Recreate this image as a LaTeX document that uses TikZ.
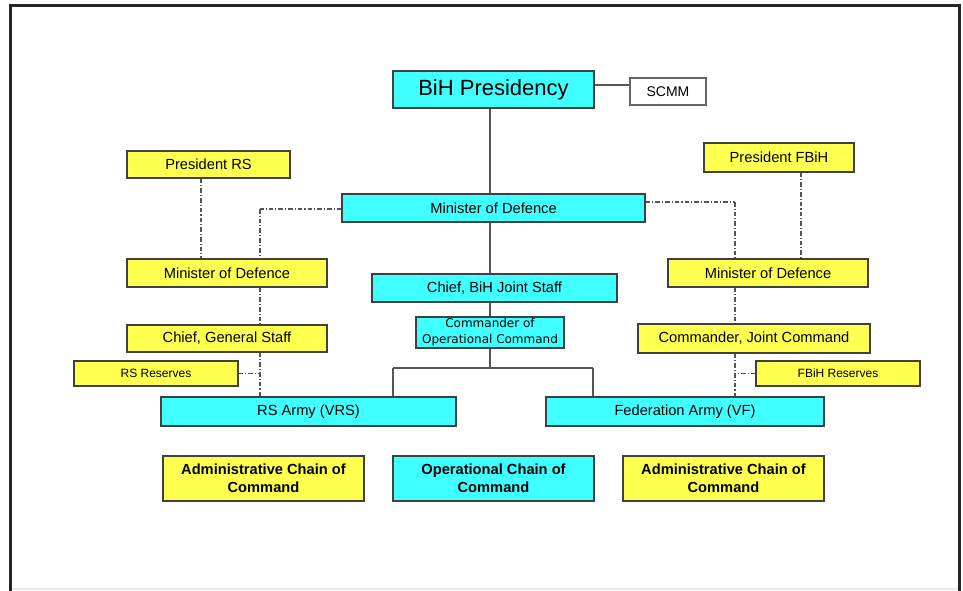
\documentclass[tikz,border=0pt]{standalone}
\usepackage{fontspec}
\setmainfont{Liberation Sans}
\newfontfamily\dejavu{DejaVu Sans}

\definecolor{boxcyan}{RGB}{64,255,255}
\definecolor{boxyellow}{RGB}{255,255,80}
\definecolor{linegray}{RGB}{85,85,85}

\begin{document}
\begin{tikzpicture}[x=0.75pt,y=-0.75pt,
    wh/.style 2 args={minimum width=#1*0.75pt,minimum height=#2*0.75pt},
    box/.style={rectangle,draw=black!75,line width=0.9pt,inner sep=0pt,align=center,
        font=\fontsize{11}{13.3}\selectfont},
    opsbox/.style={box,fill=boxcyan},
    admbox/.style={box,fill=boxyellow},
    smalltext/.style={font=\fontsize{9}{11}\selectfont}]

    \useasboundingbox (0,0) rectangle (963,590);

    % Frame %
    \draw[line width=2.1pt,black!85] (10.5,592) -- (10.5,5.5) -- (959.5,5.5) -- (959.5,592);
    \draw[line width=1pt,black!8] (12,589) -- (958,589);

    % State level %
    \node[opsbox,wh={201}{37},line width=1.6pt,font=\fontsize{16.5}{19}\selectfont] (pres) at (493.5,89.5) {BiH Presidency};
    \node[box,fill=white,draw=black!60,wh={76}{27},font=\fontsize{10.5}{12}\selectfont] (scmm) at (668,91.5) {SCMM};
    \node[opsbox,wh={303}{28}] (mod) at (493.5,208) {Minister of Defence};
    \node[opsbox,wh={245}{28}] (cbjs) at (494.5,288) {Chief, BiH Joint Staff};
    \node[opsbox,wh={148}{31},font=\dejavu\fontsize{9}{11.8}\selectfont] (coc) at (490,332.5) {Commander of\\Operational Command};

    % RS side %
    \node[admbox,wh={163}{27}] (prs) at (208.5,164.5) {President RS};
    \node[admbox,wh={200}{28}] (rsmod) at (227,273) {Minister of Defence};
    \node[admbox,wh={200}{27}] (rscgs) at (227,338.5) {Chief, General Staff};
    \node[admbox,wh={164}{25},smalltext] (rsres) at (156,373.5) {RS Reserves};
    \node[opsbox,wh={295}{29}] (vrs) at (308.5,411.5) {RS Army (VRS)};

    % Federation side %
    \node[admbox,wh={150}{29}] (pfb) at (779,157.5) {President FBiH};
    \node[admbox,wh={200}{28}] (fbmod) at (768,273) {Minister of Defence};
    \node[admbox,wh={232}{29}] (fbcjc) at (754,338.5) {Commander, Joint Command};
    \node[admbox,wh={164}{25},smalltext] (fbres) at (838,373.5) {FBiH Reserves};
    \node[opsbox,wh={278}{29}] (vf) at (685,411.5) {Federation Army (VF)};

    % Legend %
    \node[admbox,wh={201}{45},font=\fontsize{11}{13.3}\selectfont\bfseries] (admleft) at (263.5,478.5) {Administrative Chain of\\Command};
    \node[opsbox,wh={201}{45},font=\fontsize{11}{13.3}\selectfont\bfseries] (opschain) at (493.5,478.5) {Operational Chain of\\Command};
    \node[admbox,wh={201}{45},font=\fontsize{11}{13.3}\selectfont\bfseries] (admright) at (723.5,478.5) {Administrative Chain of\\Command};

    % Helper points %
    \coordinate (scmmlink) at (0,85);
    \coordinate (spine) at (490,0);
    \coordinate (fork) at (490,368);
    \coordinate (lefttap) at (393,368);
    \coordinate (righttap) at (593,368);
    \coordinate (rsbus) at (260,209);
    \coordinate (prsline) at (201,0);
    \coordinate (fbbus) at (735,202);
    \coordinate (pfbline) at (801,0);

    \begin{scope}[every edge/.style={draw=linegray,line width=0.9pt}]
        % Operational chain %
        \path (pres.east |- scmmlink) edge (scmm.west |- scmmlink);
        \path (pres.south -| spine) edge (mod.north -| spine);
        \path (mod.south -| spine) edge (cbjs.north -| spine);
        \path (cbjs.south -| spine) edge (coc.north -| spine);
        \path (coc.south -| spine) edge (fork);
        \path (lefttap) edge (righttap);
        \path (lefttap) edge (vrs.north -| lefttap);
        \path (righttap) edge (vf.north -| righttap);
    \end{scope}

    \begin{scope}[every edge/.style={draw=linegray,line width=0.9pt,
            dash pattern=on 3.5pt off 1.5pt on 0.8pt off 1.5pt}]
        % Administrative chain RS %
        \path (mod.west |- rsbus) edge (rsbus);
        \path (rsbus) edge (rsmod.north -| rsbus);
        \path (prs.south -| prsline) edge (rsmod.north -| prsline);
        \path (rsmod.south -| rsbus) edge (rscgs.north -| rsbus);
        \path (rscgs.south -| rsbus) edge (vrs.north -| rsbus);
        \path (rsres.east) edge (rsres.east -| rsbus);

        % Administrative chain Federation %
        \path (mod.east |- fbbus) edge (fbbus);
        \path (fbbus) edge (fbmod.north -| fbbus);
        \path (pfb.south -| pfbline) edge (fbmod.north -| pfbline);
        \path (fbmod.south -| fbbus) edge (fbcjc.north -| fbbus);
        \path (fbcjc.south -| fbbus) edge (vf.north -| fbbus);
        \path (fbres.west) edge (fbres.west -| fbbus);
    \end{scope}

\end{tikzpicture}
\end{document}
